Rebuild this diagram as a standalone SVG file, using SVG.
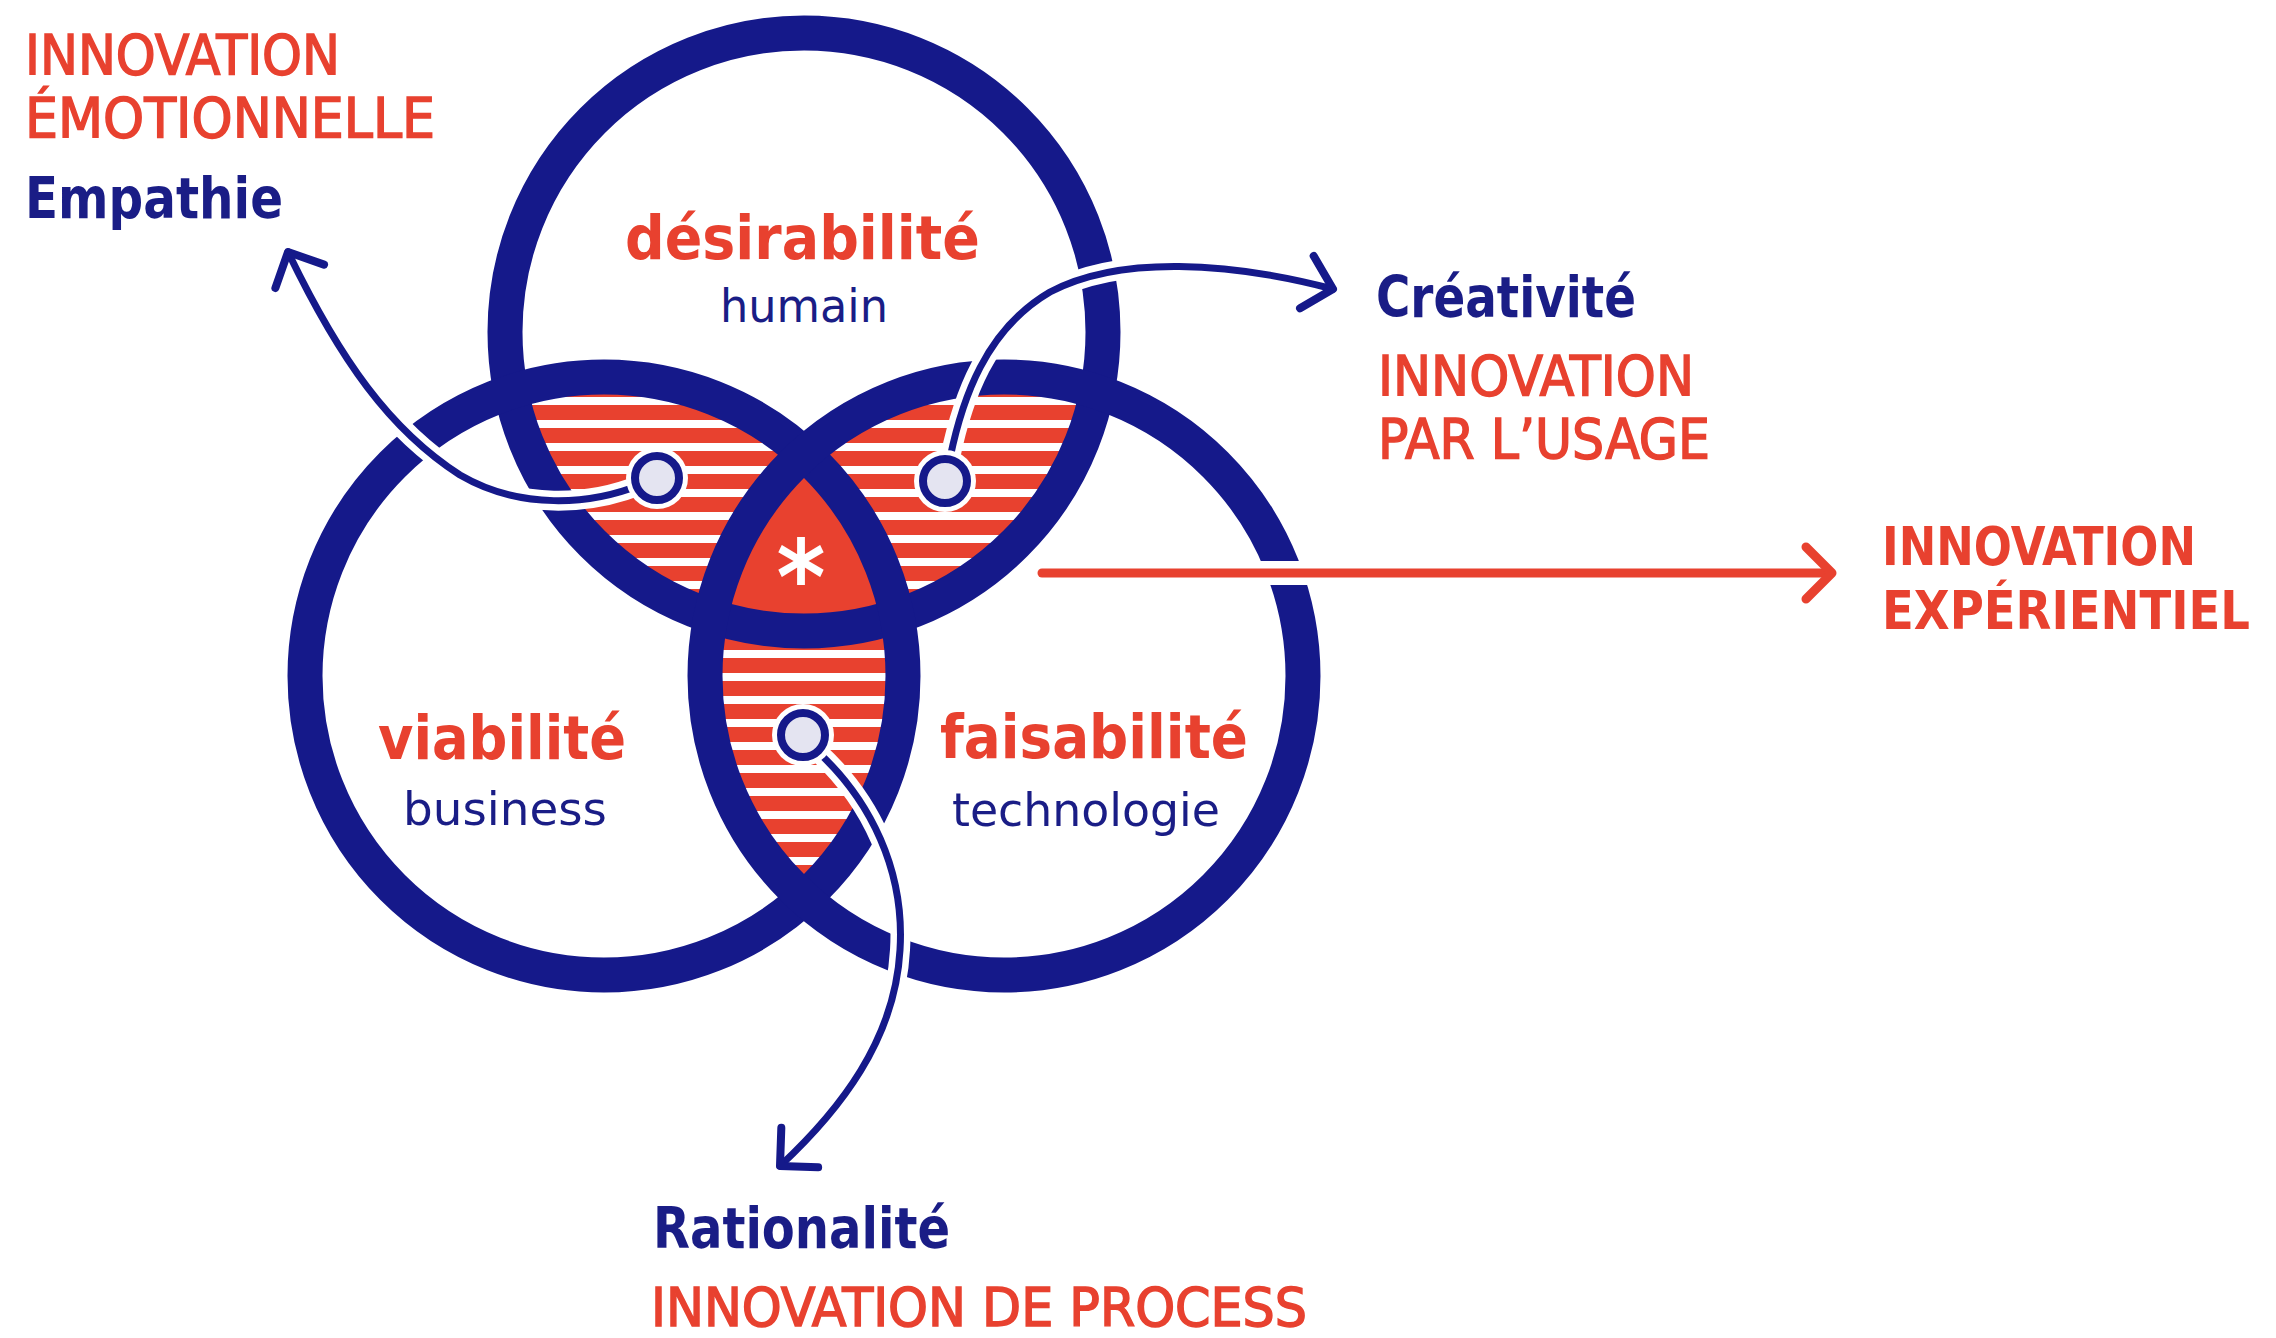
<svg xmlns="http://www.w3.org/2000/svg" width="2276" height="1338" viewBox="0 0 2276 1338">
<style>
.ring{fill:none;stroke:#15198a;stroke-width:35}
.t{font-family:"DejaVu Sans","Liberation Sans",sans-serif;font-stretch:condensed}
.red{fill:#e8412f}
.navy{fill:#1a1d86}
.cap{font-size:56px;font-weight:normal;stroke:#e8412f;stroke-width:1.4px}
.capb{font-size:54px;font-weight:bold}
.key{font-size:57px;font-weight:bold}
.main{font-size:61px;font-weight:bold}
.sub{font-size:46px;font-weight:normal}
.halo{fill:none;stroke:#fff;stroke-width:20;stroke-linecap:butt}
.conn{fill:none;stroke:#15198a;stroke-width:7;stroke-linecap:round;marker-end:url(#headNavy)}
.pinhalo{fill:#fff}
.pin{fill:#e4e4f1;stroke:#15198a;stroke-width:8}
</style>
<defs>
<clipPath id="cA"><circle cx="804" cy="332" r="299"/></clipPath>
<clipPath id="cB"><circle cx="604" cy="676" r="299"/></clipPath>
<clipPath id="cC"><circle cx="1004" cy="676" r="299"/></clipPath>
<pattern id="stripes" patternUnits="userSpaceOnUse" x="0" y="14" width="40" height="23"><rect width="40" height="23" fill="#fff"/><rect width="40" height="15" fill="#e8412f"/></pattern>
<marker id="headNavy" markerUnits="userSpaceOnUse" orient="auto" overflow="visible" markerWidth="10" markerHeight="10" refX="0" refY="0"><path d="M-27,-27 L0,0 L-27,27" fill="none" stroke="#15198a" stroke-width="8" stroke-linecap="round" stroke-linejoin="round"/></marker>
</defs>
<rect width="2276" height="1338" fill="#fff"/>

<g id="overlaps">
<g clip-path="url(#cA)"><g clip-path="url(#cB)"><rect x="280" y="280" width="1060" height="720" fill="url(#stripes)"/></g></g>
<g clip-path="url(#cA)"><g clip-path="url(#cC)"><rect x="280" y="280" width="1060" height="720" fill="url(#stripes)"/></g></g>
<g clip-path="url(#cB)"><g clip-path="url(#cC)"><rect x="280" y="280" width="1060" height="720" fill="url(#stripes)"/></g></g>
<g clip-path="url(#cA)"><g clip-path="url(#cB)"><circle cx="1004" cy="676" r="299" fill="#e8412f"/></g></g>
</g>

<g id="node-desirabilite">
<circle class="ring" cx="804" cy="332" r="299"/>
<text class="t main red" x="625" y="259" textLength="355" lengthAdjust="spacingAndGlyphs">désirabilité</text>
<text class="t sub navy" x="720" y="322" textLength="168" lengthAdjust="spacingAndGlyphs">humain</text>
</g>
<g id="node-viabilite">
<circle class="ring" cx="604" cy="676" r="299"/>
<text class="t main red" x="378" y="759" textLength="248" lengthAdjust="spacingAndGlyphs">viabilité</text>
<text class="t sub navy" x="403" y="825" textLength="204" lengthAdjust="spacingAndGlyphs">business</text>
</g>
<g id="node-faisabilite">
<circle class="ring" cx="1004" cy="676" r="299"/>
<text class="t main red" x="940" y="758" textLength="308" lengthAdjust="spacingAndGlyphs">faisabilité</text>
<text class="t sub navy" x="952" y="826" textLength="268" lengthAdjust="spacingAndGlyphs">technologie</text>
</g>
<g id="node-centre">
<text class="t" x="801" y="614" text-anchor="middle" fill="#fff" font-size="104" font-weight="bold">*</text>
</g>

<g id="connectors">
<path d="M1042,573 H1826" fill="none" stroke="#fff" stroke-width="24"/>
<path d="M1042,573 H1829" fill="none" stroke="#e8412f" stroke-width="9" stroke-linecap="round"/>
<path d="M1806,547 L1832,573 L1806,599" fill="none" stroke="#e8412f" stroke-width="9" stroke-linecap="round" stroke-linejoin="round"/>
<path class="halo" d="M640,485 C590,505 520,510 460,475 C390,430 340,360 295,266"/>
<path class="halo" d="M950,458 C962,400 985,330 1050,292 C1120,255 1230,262 1318,286"/>
<path class="halo" d="M818,752 C870,800 905,870 900,950 C895,1040 840,1110 792,1155"/>
<path class="conn" d="M640,485 C590,505 520,510 460,475 C390,430 340,360 288,252"/>
<path class="conn" d="M950,458 C962,400 985,330 1050,292 C1120,255 1230,262 1333,289"/>
<path class="conn" d="M818,752 C870,800 905,870 900,950 C895,1040 840,1110 780,1166"/>
</g>

<g id="pin-emotion"><circle class="pinhalo" cx="657" cy="478" r="31"/><circle class="pin" cx="657" cy="478" r="22"/></g>
<g id="pin-usage"><circle class="pinhalo" cx="945" cy="481" r="31"/><circle class="pin" cx="945" cy="481" r="22"/></g>
<g id="pin-process"><circle class="pinhalo" cx="803" cy="735" r="31"/><circle class="pin" cx="803" cy="735" r="22"/></g>

<g id="label-emotionnelle">
<text class="t cap red" x="25" y="74" textLength="315" lengthAdjust="spacingAndGlyphs">INNOVATION</text>
<text class="t cap red" x="25" y="137" textLength="410" lengthAdjust="spacingAndGlyphs">ÉMOTIONNELLE</text>
<text class="t key navy" x="25" y="218" textLength="258" lengthAdjust="spacingAndGlyphs">Empathie</text>
</g>
<g id="label-usage">
<text class="t key navy" x="1376" y="317" textLength="260" lengthAdjust="spacingAndGlyphs">Créativité</text>
<text class="t cap red" x="1378" y="395" textLength="316" lengthAdjust="spacingAndGlyphs">INNOVATION</text>
<text class="t cap red" x="1378" y="458" textLength="332" lengthAdjust="spacingAndGlyphs">PAR L’USAGE</text>
</g>
<g id="label-experientiel">
<text class="t capb red" x="1882" y="565" textLength="314" lengthAdjust="spacingAndGlyphs">INNOVATION</text>
<text class="t capb red" x="1882" y="629" textLength="368" lengthAdjust="spacingAndGlyphs">EXPÉRIENTIEL</text>
</g>
<g id="label-process">
<text class="t key navy" x="653" y="1248" textLength="297" lengthAdjust="spacingAndGlyphs">Rationalité</text>
<text class="t cap red" x="651" y="1326" font-size="53" style="font-size:53px" textLength="656" lengthAdjust="spacingAndGlyphs">INNOVATION DE PROCESS</text>
</g>
</svg>
